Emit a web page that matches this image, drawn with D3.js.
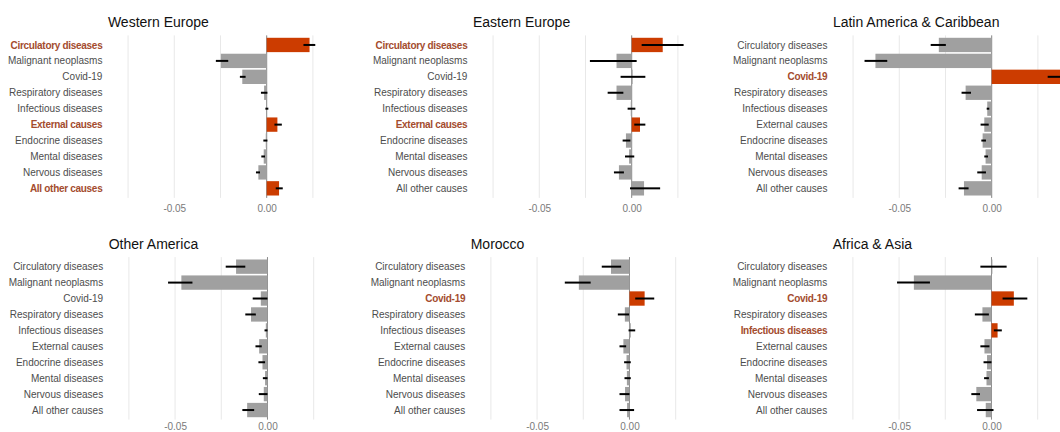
<!DOCTYPE html>
<html>
<head>
<meta charset="utf-8">
<script src="https://cdn.jsdelivr.net/npm/d3@7"></script>
<style>
  html, body { margin: 0; padding: 0; background: #fff; }
  svg { display: block; font-family: "Liberation Sans", Arial, sans-serif; }
</style>
</head>
<body>
<svg id="chart" width="1060" height="432"></svg>
<script>
// Causes of death, top to bottom in every panel
const causes = [
  "Circulatory diseases", "Malignant neoplasms", "Covid-19", "Respiratory diseases",
  "Infectious diseases", "External causes", "Endocrine diseases", "Mental diseases",
  "Nervous diseases", "All other causes"
];

const regions = [
  "Western Europe", "Eastern Europe", "Latin America & Caribbean",
  "Other America", "Morocco", "Africa & Asia"
];

// Estimated contribution and its confidence interval, per region
const estWesternEurope = [0.0232, -0.0248, -0.0132, -0.0014, 0.0000, 0.0058, -0.0005, -0.0016, -0.0045, 0.0067];
const loWesternEurope  = [0.0199, -0.0275, -0.0145, -0.0031, -0.0007, 0.0042, -0.0018, -0.0029, -0.0058, 0.0049];
const hiWesternEurope  = [0.0263, -0.0208, -0.0114, 0.0004, 0.0009, 0.0082, 0.0004, -0.0009, -0.0036, 0.0087];

const estEasternEurope = [0.0168, -0.0082, 0.0005, -0.0082, -0.0005, 0.0045, -0.0031, -0.0014, -0.0069, 0.0067];
const loEasternEurope  = [0.0054, -0.0226, -0.0060, -0.0130, -0.0022, 0.0014, -0.0049, -0.0036, -0.0096, -0.0009];
const hiEasternEurope  = [0.0281, 0.0027, 0.0074, -0.0045, 0.0020, 0.0074, -0.0007, 0.0014, -0.0042, 0.0154];

const estLatinAmerica = [-0.0286, -0.0629, 0.0375, -0.0141, -0.0024, -0.0040, -0.0049, -0.0033, -0.0054, -0.0150];
const loLatinAmerica  = [-0.0330, -0.0688, 0.0303, -0.0163, -0.0027, -0.0060, -0.0056, -0.0040, -0.0078, -0.0179];
const hiLatinAmerica  = [-0.0248, -0.0565, 0.0447, -0.0112, -0.0013, -0.0016, -0.0031, -0.0020, -0.0031, -0.0125];

const estOtherAmerica = [-0.0170, -0.0466, -0.0036, -0.0089, -0.0009, -0.0045, -0.0027, -0.0013, -0.0020, -0.0110];
const loOtherAmerica  = [-0.0226, -0.0538, -0.0080, -0.0120, -0.0016, -0.0065, -0.0049, -0.0025, -0.0047, -0.0136];
const hiOtherAmerica  = [-0.0120, -0.0406, 0.0000, -0.0063, 0.0000, -0.0031, -0.0013, 0.0000, 0.0000, -0.0072];

const estMorocco = [-0.0100, -0.0274, 0.0082, -0.0025, 0.0007, -0.0033, -0.0016, -0.0014, -0.0024, -0.0013];
const loMorocco  = [-0.0150, -0.0350, 0.0031, -0.0063, -0.0005, -0.0054, -0.0029, -0.0027, -0.0054, -0.0054];
const hiMorocco  = [-0.0045, -0.0210, 0.0134, -0.0002, 0.0031, -0.0018, 0.0007, 0.0007, 0.0000, 0.0025];

const estAfricaAsia = [0.0005, -0.0420, 0.0121, -0.0049, 0.0033, -0.0038, -0.0024, -0.0027, -0.0082, -0.0031];
const loAfricaAsia  = [-0.0060, -0.0511, 0.0060, -0.0090, 0.0013, -0.0060, -0.0043, -0.0040, -0.0109, -0.0078];
const hiAfricaAsia  = [0.0082, -0.0333, 0.0194, -0.0014, 0.0056, -0.0011, 0.0000, -0.0014, -0.0062, 0.0011];

// Axis breaks
const tickValues = [-0.05, 0.00];
const tickLabels = ["-0.05", "0.00"];
const gridBreaks = [-0.075, -0.05, -0.025, 0, 0.025];

const estimates = [estWesternEurope, estEasternEurope, estLatinAmerica, estOtherAmerica, estMorocco, estAfricaAsia];
const lows = [loWesternEurope, loEasternEurope, loLatinAmerica, loOtherAmerica, loMorocco, loAfricaAsia];
const highs = [hiWesternEurope, hiEasternEurope, hiLatinAmerica, hiOtherAmerica, hiMorocco, hiAfricaAsia];

// Layout of the six panels (2 rows x 3 columns)
const width = 1060, height = 432;
const xDomain = [-0.087, 0.047];
const pxPerUnit = 1848;
const panelWidth = (xDomain[1] - xDomain[0]) * pxPerUnit;
const panelHeight = 162.5;
const panelLefts = [105.9, 470.9, 830.9, 106.7, 468.7, 830.7];
const rowTops = [35.4, 257.1];

const colors = {
  up: "#cc3c00",
  neutral: "#a0a0a0",
  upLabel: "#a44c2e",
  label: "#4d4d4d",
  tick: "#7a7a7a",
  grid: "#e8e8e8",
  zero: "#8a8a8a",
  title: "#111"
};

const svg = d3.select("#chart");

regions.forEach((region, i) => {
  const left = panelLefts[i];
  const top = rowTops[Math.floor(i / 3)];
  const rows = causes.map((c, j) => ({
    cause: c, est: estimates[i][j], lo: lows[i][j], hi: highs[i][j],
    up: lows[i][j] > 0
  }));

  const x = d3.scaleLinear().domain(xDomain).range([left, left + panelWidth]);
  const y = d3.scaleBand().domain(causes).range([top, top + panelHeight])
    .paddingInner(0.1).paddingOuter(0.15);

  const g = svg.append("g").attr("class", "panel");

  // grid
  g.selectAll("line.grid").data(gridBreaks).join("line")
    .attr("class", "grid")
    .attr("x1", d => x(d)).attr("x2", d => x(d))
    .attr("y1", top).attr("y2", top + panelHeight)
    .attr("stroke", colors.grid).attr("stroke-width", 1);

  // zero reference line
  g.append("line")
    .attr("x1", x(0)).attr("x2", x(0))
    .attr("y1", top).attr("y2", top + panelHeight)
    .attr("stroke", colors.zero).attr("stroke-width", 1);

  // bars
  g.selectAll("rect.bar").data(rows).join("rect")
    .attr("class", "bar")
    .attr("x", d => Math.min(x(0), x(d.est)))
    .attr("width", d => Math.abs(x(d.est) - x(0)))
    .attr("y", d => y(d.cause))
    .attr("height", y.bandwidth())
    .attr("fill", d => d.up ? colors.up : colors.neutral);

  // confidence intervals
  g.selectAll("line.ci").data(rows).join("line")
    .attr("class", "ci")
    .attr("x1", d => x(d.lo)).attr("x2", d => x(d.hi))
    .attr("y1", d => y(d.cause) + y.bandwidth() / 2)
    .attr("y2", d => y(d.cause) + y.bandwidth() / 2)
    .attr("stroke", "#000").attr("stroke-width", 2);

  // category labels; highlighted causes are bold
  g.selectAll("text.cat").data(rows).join("text")
    .attr("class", "cat")
    .attr("x", left - 3.5)
    .attr("y", d => y(d.cause) + y.bandwidth() / 2 + 3.6)
    .attr("text-anchor", "end")
    .attr("font-size", "10px")
    .attr("font-weight", d => d.up ? "bold" : "normal")
    .attr("letter-spacing", d => d.up ? "-0.3px" : null)
    .attr("fill", d => d.up ? colors.upLabel : colors.label)
    .text(d => d.cause);

  // x axis tick labels (kept inside the drawing area)
  const axisY = top + panelHeight;
  const labelY = Math.min(13.8, height - 1.5 - axisY);
  const axis = d3.axisBottom(x).tickValues(tickValues)
    .tickFormat((d, k) => tickLabels[k]).tickSize(0).tickPadding(0);
  const ax = g.append("g")
    .attr("transform", `translate(0,${axisY})`)
    .call(axis);
  ax.select(".domain").remove();
  ax.selectAll("text")
    .attr("dy", null)
    .attr("y", labelY)
    .attr("font-size", "10px")
    .attr("font-family", "Liberation Sans, Arial, sans-serif")
    .attr("fill", colors.tick);

  // title
  g.append("text")
    .attr("x", left + 2)
    .attr("y", top - 8)
    .attr("font-size", "14px")
    .attr("fill", colors.title)
    .text(region);
});
</script>
</body>
</html>
